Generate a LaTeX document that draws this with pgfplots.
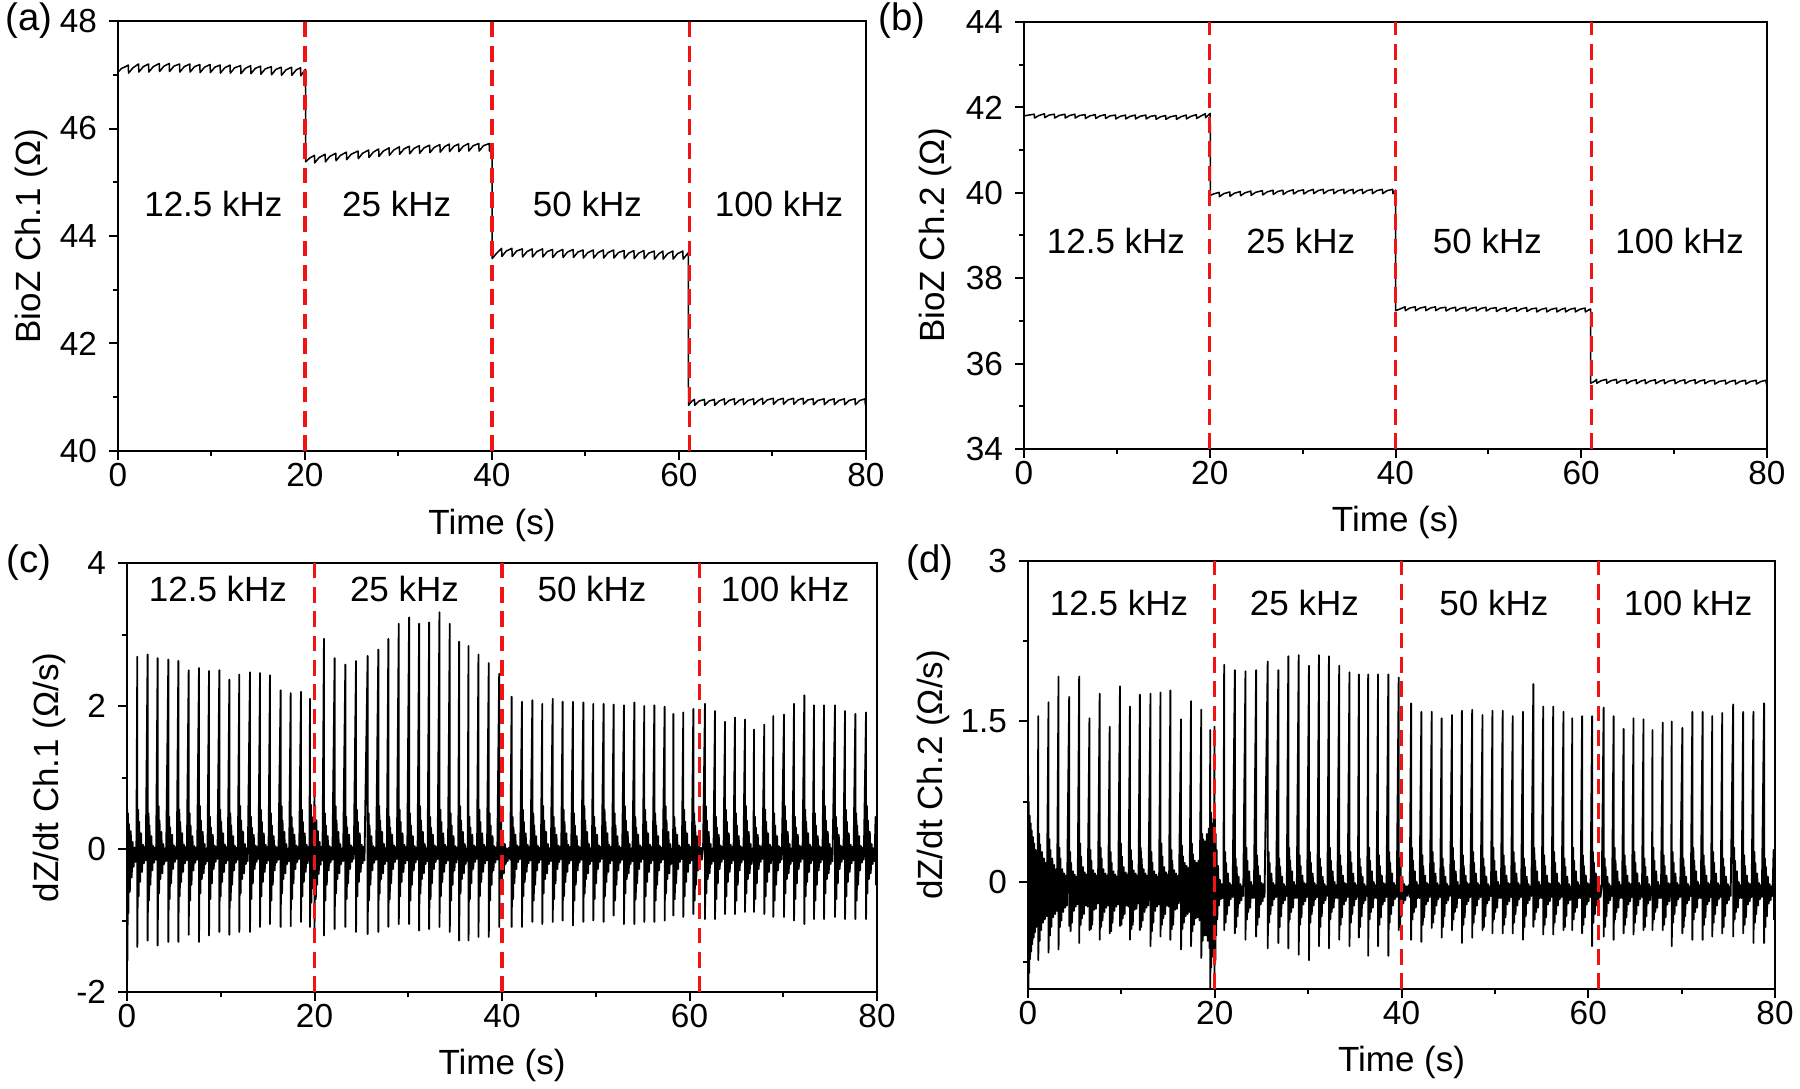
\documentclass[border=0pt]{standalone}
\usepackage{fontspec}
\setmainfont{Liberation Sans}
\usepackage{pgfplots}
\pgfplotsset{compat=1.18}
\definecolor{refred}{RGB}{240,20,20}
\begin{document}
\fontsize{10.5}{12}\selectfont
\begin{tikzpicture}
\tikzset{
  khz/.style={font=\fontsize{10.5}{12}\selectfont},
  redline/.style={refred, line width=1pt, dash pattern=on 4.7pt off 2.6pt},
  slow/.style={black, line width=0.45pt, line join=round},
  fast/.style={black, line width=0.55pt, line join=round},
}
\pgfplotsset{
  panel/.style={
    scale only axis, anchor=south west,
    xmin=0, xmax=80, xtick={0,20,40,60,80}, minor xtick={10,30,50,70},
    tick align=outside, tick pos=left,
    major tick length=2.6pt, minor tick length=1.6pt,
    every tick/.append style={line width=0.6pt, black},
    axis line style={line width=0.6pt},
    xlabel={Time (s)},
    xlabel style={at={(axis description cs:0.5,-0.172)}, anchor=center, font=\fontsize{10.5}{12}\selectfont},
    ylabel style={anchor=center, font=\fontsize{10.5}{12}\selectfont},
    tick label style={font=\fontsize{10}{12}\selectfont},
    xticklabel style={yshift=2.5pt},
    /pgf/number format/assume math mode=true,
  },
}
% ---------------- (a)
\begin{axis}[panel, at={(35.4pt,191.1pt)}, width=224.4pt, height=129pt,
  ymin=40, ymax=48, ytick={40,42,44,46,48}, minor ytick={41,43,45,47},
  ylabel={BioZ Ch.1 (Ω)}, ylabel style={at={(axis description cs:-0.116,0.5)}}]
\addplot[slow] coordinates {
(0,47.05)(0.4,47.12)(0.8,47.15)
(1.10,47.18)(1.13,47.03)(1.60,47.13)
(2.20,47.20)(2.23,47.05)(2.70,47.15)
(3.27,47.20)(3.30,47.05)(3.77,47.15)
(4.41,47.21)(4.44,47.06)(4.91,47.16)
(5.48,47.21)(5.51,47.06)(5.98,47.16)
(6.58,47.20)(6.61,47.05)(7.08,47.15)
(7.68,47.20)(7.71,47.05)(8.18,47.15)
(8.75,47.19)(8.78,47.04)(9.25,47.14)
(9.85,47.19)(9.88,47.04)(10.35,47.14)
(10.92,47.18)(10.95,47.03)(11.42,47.13)
(11.98,47.18)(12.01,47.03)(12.48,47.13)
(13.12,47.17)(13.15,47.02)(13.62,47.12)
(14.19,47.17)(14.22,47.02)(14.69,47.12)
(15.25,47.16)(15.28,47.01)(15.75,47.11)
(16.39,47.15)(16.42,47.00)(16.89,47.10)
(17.46,47.14)(17.49,46.99)(17.96,47.09)
(18.56,47.14)(18.59,46.99)(19.06,47.09)
(19.52,47.13)(19.55,46.98)(19.95,47.08)
(20.05,47.10)(20.07,45.38)(20.5,45.45)
(21.01,45.50)(21.04,45.36)(21.51,45.46)
(22.15,45.52)(22.18,45.38)(22.65,45.48)
(23.29,45.54)(23.32,45.40)(23.79,45.50)
(24.43,45.56)(24.46,45.42)(24.93,45.52)
(25.67,45.58)(25.70,45.44)(26.17,45.54)
(26.81,45.60)(26.84,45.46)(27.31,45.56)
(27.88,45.62)(27.91,45.48)(28.38,45.58)
(28.99,45.64)(29.02,45.50)(29.49,45.60)
(30.09,45.66)(30.12,45.52)(30.59,45.62)
(31.16,45.67)(31.19,45.53)(31.66,45.63)
(32.23,45.68)(32.26,45.54)(32.73,45.64)
(33.33,45.69)(33.36,45.55)(33.83,45.65)
(34.43,45.70)(34.46,45.56)(34.93,45.66)
(35.43,45.71)(35.46,45.57)(35.93,45.67)
(36.43,45.71)(36.46,45.57)(36.93,45.67)
(37.49,45.72)(37.52,45.58)(37.99,45.68)
(38.59,45.72)(38.62,45.58)(39.09,45.68)
(39.70,45.72)(39.73,45.58)(39.98,45.66)
(40.00,45.67)(40.02,43.58)(40.5,43.68)
(41.03,43.77)(41.06,43.62)(41.53,43.72)
(42.13,43.77)(42.16,43.62)(42.63,43.72)
(43.24,43.76)(43.27,43.61)(43.74,43.71)
(44.30,43.76)(44.33,43.61)(44.80,43.71)
(45.41,43.76)(45.44,43.61)(45.91,43.71)
(46.47,43.75)(46.50,43.60)(46.97,43.70)
(47.57,43.75)(47.60,43.60)(48.07,43.70)
(48.68,43.75)(48.71,43.60)(49.18,43.70)
(49.74,43.74)(49.77,43.59)(50.24,43.69)
(50.84,43.74)(50.87,43.59)(51.34,43.69)
(51.91,43.74)(51.94,43.59)(52.41,43.69)
(53.01,43.74)(53.04,43.59)(53.51,43.69)
(54.12,43.73)(54.15,43.58)(54.62,43.68)
(55.18,43.73)(55.21,43.58)(55.68,43.68)
(56.25,43.73)(56.28,43.58)(56.75,43.68)
(57.35,43.72)(57.38,43.57)(57.85,43.67)
(58.28,43.72)(58.31,43.57)(58.78,43.67)
(59.34,43.72)(59.37,43.57)(59.84,43.67)
(60.41,43.72)(60.44,43.57)(60.91,43.67)
(61.00,43.69)(61.02,40.85)(61.4,40.93)
(61.65,40.96)(61.68,40.85)(62.15,40.93)
(62.72,40.96)(62.75,40.85)(63.22,40.93)
(63.79,40.96)(63.82,40.85)(64.29,40.93)
(64.85,40.97)(64.88,40.86)(65.35,40.94)
(65.92,40.97)(65.95,40.86)(66.42,40.94)
(66.88,40.97)(66.91,40.86)(67.38,40.94)
(67.98,40.97)(68.01,40.86)(68.48,40.94)
(68.94,40.98)(68.97,40.87)(69.44,40.95)
(70.08,40.98)(70.11,40.87)(70.58,40.95)
(71.15,40.98)(71.18,40.87)(71.65,40.95)
(72.25,40.98)(72.28,40.87)(72.75,40.95)
(73.28,40.98)(73.31,40.87)(73.78,40.95)
(74.35,40.97)(74.38,40.86)(74.85,40.94)
(75.52,40.97)(75.55,40.86)(76.02,40.94)
(76.59,40.97)(76.62,40.86)(77.09,40.94)
(77.69,40.97)(77.72,40.86)(78.19,40.94)
(78.83,40.97)(78.86,40.86)(79.33,40.94)
(79.90,40.97)(79.93,40.86)(80,40.90)
};
\addplot[redline] coordinates {(20,40)(20,48)};
\addplot[redline] coordinates {(40,40)(40,48)};
\addplot[redline] coordinates {(61.1,40)(61.1,48)};
\node[khz] at (axis cs:10.2,44.6) {12.5 kHz};
\node[khz] at (axis cs:29.8,44.6) {25 kHz};
\node[khz] at (axis cs:50.2,44.6) {50 kHz};
\node[khz] at (axis cs:70.7,44.6) {100 kHz};
\end{axis}
% ---------------- (b)
\begin{axis}[panel, at={(307.2pt,191.7pt)}, width=222.9pt, height=128.1pt,
  ymin=34, ymax=44, ytick={34,36,38,40,42,44}, minor ytick={35,37,39,41,43},
  ylabel={BioZ Ch.2 (Ω)}, ylabel style={at={(axis description cs:-0.119,0.5)}}]
\addplot[slow] coordinates {
(0,41.80)(0.5,41.82)
(1.10,41.84)(1.13,41.75)(1.60,41.81)
(2.20,41.85)(2.23,41.76)(2.70,41.82)
(3.27,41.84)(3.30,41.75)(3.77,41.81)
(4.41,41.84)(4.44,41.75)(4.91,41.81)
(5.48,41.84)(5.51,41.75)(5.98,41.81)
(6.58,41.83)(6.61,41.74)(7.08,41.80)
(7.68,41.83)(7.71,41.74)(8.18,41.80)
(8.75,41.83)(8.78,41.74)(9.25,41.80)
(9.85,41.82)(9.88,41.73)(10.35,41.79)
(10.92,41.82)(10.95,41.73)(11.42,41.79)
(11.98,41.82)(12.01,41.73)(12.48,41.79)
(13.12,41.82)(13.15,41.73)(13.62,41.79)
(14.19,41.81)(14.22,41.72)(14.69,41.78)
(15.25,41.81)(15.28,41.72)(15.75,41.78)
(16.39,41.81)(16.42,41.72)(16.89,41.78)
(17.46,41.82)(17.49,41.73)(17.96,41.79)
(18.56,41.83)(18.59,41.74)(19.06,41.80)
(19.52,41.85)(19.55,41.76)(19.95,41.84)
(20.05,41.86)(20.07,39.94)(20.5,39.98)
(21.01,40.01)(21.04,39.91)(21.51,39.98)
(22.15,40.02)(22.18,39.92)(22.65,39.99)
(23.29,40.03)(23.32,39.93)(23.79,40.00)
(24.43,40.04)(24.46,39.94)(24.93,40.01)
(25.67,40.05)(25.70,39.95)(26.17,40.02)
(26.81,40.06)(26.84,39.96)(27.31,40.03)
(27.88,40.06)(27.91,39.96)(28.38,40.03)
(28.99,40.07)(29.02,39.97)(29.49,40.04)
(30.09,40.07)(30.12,39.97)(30.59,40.04)
(31.16,40.08)(31.19,39.98)(31.66,40.05)
(32.23,40.08)(32.26,39.98)(32.73,40.05)
(33.33,40.08)(33.36,39.98)(33.83,40.05)
(34.43,40.08)(34.46,39.98)(34.93,40.05)
(35.43,40.08)(35.46,39.98)(35.93,40.05)
(36.43,40.08)(36.46,39.98)(36.93,40.05)
(37.49,40.08)(37.52,39.98)(37.99,40.05)
(38.59,40.08)(38.62,39.98)(39.09,40.05)
(39.70,40.08)(39.73,39.98)(39.98,40.05)
(40.00,40.06)(40.02,37.24)(40.5,37.28)
(41.03,37.33)(41.06,37.24)(41.53,37.30)
(42.13,37.33)(42.16,37.24)(42.63,37.30)
(43.24,37.33)(43.27,37.24)(43.74,37.30)
(44.30,37.33)(44.33,37.24)(44.80,37.30)
(45.41,37.32)(45.44,37.23)(45.91,37.29)
(46.47,37.32)(46.50,37.23)(46.97,37.29)
(47.57,37.32)(47.60,37.23)(48.07,37.29)
(48.68,37.32)(48.71,37.23)(49.18,37.29)
(49.74,37.32)(49.77,37.23)(50.24,37.29)
(50.84,37.31)(50.87,37.22)(51.34,37.28)
(51.91,37.31)(51.94,37.22)(52.41,37.28)
(53.01,37.31)(53.04,37.22)(53.51,37.28)
(54.12,37.31)(54.15,37.22)(54.62,37.28)
(55.18,37.30)(55.21,37.21)(55.68,37.27)
(56.25,37.30)(56.28,37.21)(56.75,37.27)
(57.35,37.30)(57.38,37.21)(57.85,37.27)
(58.28,37.30)(58.31,37.21)(58.78,37.27)
(59.34,37.30)(59.37,37.21)(59.84,37.27)
(60.41,37.30)(60.44,37.21)(60.91,37.27)
(61.00,37.28)(61.02,35.54)(61.4,35.58)
(61.65,35.63)(61.68,35.54)(62.15,35.60)
(62.72,35.63)(62.75,35.54)(63.22,35.60)
(63.79,35.63)(63.82,35.54)(64.29,35.60)
(64.85,35.62)(64.88,35.53)(65.35,35.59)
(65.92,35.62)(65.95,35.53)(66.42,35.59)
(66.88,35.62)(66.91,35.53)(67.38,35.59)
(67.98,35.62)(68.01,35.53)(68.48,35.59)
(68.94,35.62)(68.97,35.53)(69.44,35.59)
(70.08,35.62)(70.11,35.53)(70.58,35.59)
(71.15,35.62)(71.18,35.53)(71.65,35.59)
(72.25,35.62)(72.28,35.53)(72.75,35.59)
(73.28,35.62)(73.31,35.53)(73.78,35.59)
(74.35,35.61)(74.38,35.52)(74.85,35.58)
(75.52,35.61)(75.55,35.52)(76.02,35.58)
(76.59,35.61)(76.62,35.52)(77.09,35.58)
(77.69,35.61)(77.72,35.52)(78.19,35.58)
(78.83,35.61)(78.86,35.52)(79.33,35.58)
(79.90,35.61)(79.93,35.52)(80,35.57)
};
\addplot[redline] coordinates {(20,34)(20,44)};
\addplot[redline] coordinates {(40,34)(40,44)};
\addplot[redline] coordinates {(61.1,34)(61.1,44)};
\node[khz] at (axis cs:9.9,38.87) {12.5 kHz};
\node[khz] at (axis cs:29.8,38.87) {25 kHz};
\node[khz] at (axis cs:49.9,38.87) {50 kHz};
\node[khz] at (axis cs:70.6,38.87) {100 kHz};
\end{axis}
% ---------------- (c)
\begin{axis}[panel, at={(38.1pt,28.8pt)}, width=225pt, height=128.7pt,
  ymin=-2, ymax=4, ytick={-2,0,2,4}, minor ytick={-1,1,3},
  ylabel={dZ/dt Ch.1 (Ω/s)}, ylabel style={at={(axis description cs:-0.1035,0.5)}}]
\addplot[fast] coordinates {
(0,-0.10)(0.03,0.55)(0.05,-1.56)(0.10,0.50)(0.15,-0.90)(0.20,0.35)(0.30,-0.60)(0.40,0.25)(0.50,-0.40)(0.60,0.10)(0.70,-0.25)(0.80,0.02)(0.90,-0.18)(1.00,0.00)
(1.10,2.69)(1.10,-1.37)(1.20,0.55)(1.25,-0.66)(1.30,0.38)(1.40,-0.46)(1.50,0.22)(1.60,-0.32)(1.70,0.06)(1.80,-0.20)(1.90,0.03)(2.00,-0.16)
(2.20,2.72)(2.20,-1.28)(2.30,0.50)(2.35,-0.72)(2.40,0.33)(2.50,-0.50)(2.60,0.18)(2.70,-0.30)(2.80,0.04)(2.90,-0.19)(3.00,0.02)(3.10,-0.15)
(3.27,2.67)(3.27,-1.35)(3.37,0.60)(3.42,-0.62)(3.47,0.40)(3.57,-0.42)(3.67,0.24)(3.77,-0.34)(3.87,0.07)(3.97,-0.21)(4.07,0.01)(4.17,-0.17)
(4.41,2.65)(4.41,-1.30)(4.51,0.45)(4.56,-0.70)(4.61,0.30)(4.71,-0.48)(4.81,0.20)(4.91,-0.28)(5.01,0.05)(5.11,-0.18)(5.21,0.03)(5.31,-0.14)
(5.48,2.63)(5.48,-1.30)(5.58,0.55)(5.63,-0.66)(5.68,0.38)(5.78,-0.46)(5.88,0.22)(5.98,-0.32)(6.08,0.06)(6.18,-0.20)(6.28,0.03)(6.38,-0.16)
(6.58,2.50)(6.58,-1.20)(6.68,0.50)(6.73,-0.72)(6.78,0.33)(6.88,-0.50)(6.98,0.18)(7.08,-0.30)(7.18,0.04)(7.28,-0.19)(7.38,0.02)(7.48,-0.15)
(7.68,2.53)(7.68,-1.30)(7.78,0.60)(7.83,-0.62)(7.88,0.40)(7.98,-0.42)(8.08,0.24)(8.18,-0.34)(8.28,0.07)(8.38,-0.21)(8.48,0.01)(8.58,-0.17)
(8.75,2.49)(8.75,-1.21)(8.85,0.45)(8.90,-0.70)(8.95,0.30)(9.05,-0.48)(9.15,0.20)(9.25,-0.28)(9.35,0.05)(9.45,-0.18)(9.55,0.03)(9.65,-0.14)
(9.85,2.50)(9.85,-1.16)(9.95,0.55)(10.00,-0.66)(10.05,0.38)(10.15,-0.46)(10.25,0.22)(10.35,-0.32)(10.45,0.06)(10.55,-0.20)(10.65,0.03)(10.75,-0.16)
(10.92,2.37)(10.92,-1.20)(11.02,0.50)(11.07,-0.72)(11.12,0.33)(11.22,-0.50)(11.32,0.18)(11.42,-0.30)(11.52,0.04)(11.62,-0.19)(11.72,0.02)(11.82,-0.15)
(11.98,2.44)(11.98,-1.16)(12.08,0.60)(12.13,-0.62)(12.18,0.40)(12.28,-0.42)(12.38,0.24)(12.48,-0.34)(12.58,0.07)(12.68,-0.21)(12.78,0.01)(12.88,-0.17)
(13.12,2.47)(13.12,-1.16)(13.22,0.45)(13.27,-0.70)(13.32,0.30)(13.42,-0.48)(13.52,0.20)(13.62,-0.28)(13.72,0.05)(13.82,-0.18)(13.92,0.03)(14.02,-0.14)
(14.19,2.46)(14.19,-1.09)(14.29,0.55)(14.34,-0.66)(14.39,0.38)(14.49,-0.46)(14.59,0.22)(14.69,-0.32)(14.79,0.06)(14.89,-0.20)(14.99,0.03)(15.09,-0.16)
(15.25,2.43)(15.25,-1.05)(15.35,0.50)(15.40,-0.72)(15.45,0.33)(15.55,-0.50)(15.65,0.18)(15.75,-0.30)(15.85,0.04)(15.95,-0.19)(16.05,0.02)(16.15,-0.15)
(16.39,2.22)(16.39,-1.09)(16.49,0.60)(16.54,-0.62)(16.59,0.40)(16.69,-0.42)(16.79,0.24)(16.89,-0.34)(16.99,0.07)(17.09,-0.21)(17.19,0.01)(17.29,-0.17)
(17.46,2.18)(17.46,-1.08)(17.56,0.45)(17.61,-0.70)(17.66,0.30)(17.76,-0.48)(17.86,0.20)(17.96,-0.28)(18.06,0.05)(18.16,-0.18)(18.26,0.03)(18.36,-0.14)
(18.56,2.20)(18.56,-1.02)(18.66,0.55)(18.71,-0.66)(18.76,0.38)(18.86,-0.46)(18.96,0.22)(19.06,-0.32)(19.16,0.06)(19.26,-0.20)(19.36,0.03)(19.46,-0.16)
(19.52,2.10)(19.52,-1.09)(19.62,0.62)(19.67,-0.75)(19.72,0.45)(19.80,-0.55)(19.88,0.35)(19.94,-0.45)
(20.00,0.88)(20.00,-1.20)(20.08,0.60)(20.14,-0.70)(20.20,0.40)(20.28,-0.50)(20.36,0.25)(20.45,-0.35)(20.55,0.10)(20.65,-0.22)(20.75,0.03)(20.85,-0.16)
(21.01,2.94)(21.01,-1.21)(21.11,0.50)(21.16,-0.72)(21.21,0.33)(21.31,-0.50)(21.41,0.18)(21.51,-0.30)(21.61,0.04)(21.71,-0.19)(21.81,0.02)(21.91,-0.15)
(22.15,2.67)(22.15,-1.12)(22.25,0.60)(22.30,-0.62)(22.35,0.40)(22.45,-0.42)(22.55,0.24)(22.65,-0.34)(22.75,0.07)(22.85,-0.21)(22.95,0.01)(23.05,-0.17)
(23.29,2.58)(23.29,-1.09)(23.39,0.45)(23.44,-0.70)(23.49,0.30)(23.59,-0.48)(23.69,0.20)(23.79,-0.28)(23.89,0.05)(23.99,-0.18)(24.09,0.03)(24.19,-0.14)
(24.43,2.63)(24.43,-1.16)(24.53,0.55)(24.58,-0.66)(24.63,0.38)(24.73,-0.46)(24.83,0.22)(24.93,-0.32)(25.03,0.06)(25.13,-0.20)(25.23,0.03)(25.33,-0.16)
(25.67,2.70)(25.67,-1.19)(25.77,0.50)(25.82,-0.72)(25.87,0.33)(25.97,-0.50)(26.07,0.18)(26.17,-0.30)(26.27,0.04)(26.37,-0.19)(26.47,0.02)(26.57,-0.15)
(26.81,2.79)(26.81,-1.16)(26.91,0.60)(26.96,-0.62)(27.01,0.40)(27.11,-0.42)(27.21,0.24)(27.31,-0.34)(27.41,0.07)(27.51,-0.21)(27.61,0.01)(27.71,-0.17)
(27.88,2.94)(27.88,-1.09)(27.98,0.45)(28.03,-0.70)(28.08,0.30)(28.18,-0.48)(28.28,0.20)(28.38,-0.28)(28.48,0.05)(28.58,-0.18)(28.68,0.03)(28.78,-0.14)
(28.99,3.15)(28.99,-1.05)(29.09,0.55)(29.14,-0.66)(29.19,0.38)(29.29,-0.46)(29.39,0.22)(29.49,-0.32)(29.59,0.06)(29.69,-0.20)(29.79,0.03)(29.89,-0.16)
(30.09,3.24)(30.09,-1.05)(30.19,0.50)(30.24,-0.72)(30.29,0.33)(30.39,-0.50)(30.49,0.18)(30.59,-0.30)(30.69,0.04)(30.79,-0.19)(30.89,0.02)(30.99,-0.15)
(31.16,3.15)(31.16,-1.14)(31.26,0.60)(31.31,-0.62)(31.36,0.40)(31.46,-0.42)(31.56,0.24)(31.66,-0.34)(31.76,0.07)(31.86,-0.21)(31.96,0.01)(32.06,-0.17)
(32.23,3.17)(32.23,-1.12)(32.33,0.45)(32.38,-0.70)(32.43,0.30)(32.53,-0.48)(32.63,0.20)(32.73,-0.28)(32.83,0.05)(32.93,-0.18)(33.03,0.03)(33.13,-0.14)
(33.33,3.31)(33.33,-1.09)(33.43,0.55)(33.48,-0.66)(33.53,0.38)(33.63,-0.46)(33.73,0.22)(33.83,-0.32)(33.93,0.06)(34.03,-0.20)(34.13,0.03)(34.23,-0.16)
(34.43,3.15)(34.43,-1.16)(34.53,0.50)(34.58,-0.72)(34.63,0.33)(34.73,-0.50)(34.83,0.18)(34.93,-0.30)(35.03,0.04)(35.13,-0.19)(35.23,0.02)(35.33,-0.15)
(35.43,2.90)(35.43,-1.28)(35.53,0.60)(35.58,-0.62)(35.63,0.40)(35.73,-0.42)(35.83,0.24)(35.93,-0.34)(36.03,0.07)(36.13,-0.21)(36.23,0.01)(36.33,-0.17)
(36.43,2.84)(36.43,-1.28)(36.53,0.45)(36.58,-0.70)(36.63,0.30)(36.73,-0.48)(36.83,0.20)(36.93,-0.28)(37.03,0.05)(37.13,-0.18)(37.23,0.03)(37.33,-0.14)
(37.49,2.72)(37.49,-1.23)(37.59,0.55)(37.64,-0.66)(37.69,0.38)(37.79,-0.46)(37.89,0.22)(37.99,-0.32)(38.09,0.06)(38.19,-0.20)(38.29,0.03)(38.39,-0.16)
(38.59,2.60)(38.59,-1.23)(38.69,0.50)(38.74,-0.72)(38.79,0.33)(38.89,-0.50)(38.99,0.18)(39.09,-0.30)(39.19,0.04)(39.29,-0.19)(39.39,0.02)(39.49,-0.15)
(39.70,2.45)(39.70,-1.09)(39.80,0.60)(39.85,-0.62)(39.90,0.40)(40.00,-0.42)(40.10,0.24)(40.20,-0.34)(40.30,0.07)(40.40,-0.21)(40.50,0.01)(40.60,-0.17)(40.75,0.02)(40.88,-0.15)
(41.03,2.13)(41.03,-1.09)(41.13,0.45)(41.18,-0.70)(41.23,0.30)(41.33,-0.48)(41.43,0.20)(41.53,-0.28)(41.63,0.05)(41.73,-0.18)(41.83,0.03)(41.93,-0.14)
(42.13,2.06)(42.13,-1.09)(42.23,0.55)(42.28,-0.66)(42.33,0.38)(42.43,-0.46)(42.53,0.22)(42.63,-0.32)(42.73,0.06)(42.83,-0.20)(42.93,0.03)(43.03,-0.16)
(43.24,2.08)(43.24,-1.02)(43.34,0.50)(43.39,-0.72)(43.44,0.33)(43.54,-0.50)(43.64,0.18)(43.74,-0.30)(43.84,0.04)(43.94,-0.19)(44.04,0.02)(44.14,-0.15)
(44.30,2.03)(44.30,-1.05)(44.40,0.60)(44.45,-0.62)(44.50,0.40)(44.60,-0.42)(44.70,0.24)(44.80,-0.34)(44.90,0.07)(45.00,-0.21)(45.10,0.01)(45.20,-0.17)
(45.41,2.10)(45.41,-1.02)(45.51,0.45)(45.56,-0.70)(45.61,0.30)(45.71,-0.48)(45.81,0.20)(45.91,-0.28)(46.01,0.05)(46.11,-0.18)(46.21,0.03)(46.31,-0.14)
(46.47,2.06)(46.47,-1.00)(46.57,0.55)(46.62,-0.66)(46.67,0.38)(46.77,-0.46)(46.87,0.22)(46.97,-0.32)(47.07,0.06)(47.17,-0.20)(47.27,0.03)(47.37,-0.16)
(47.57,2.06)(47.57,-1.07)(47.67,0.50)(47.72,-0.72)(47.77,0.33)(47.87,-0.50)(47.97,0.18)(48.07,-0.30)(48.17,0.04)(48.27,-0.19)(48.37,0.02)(48.47,-0.15)
(48.68,2.05)(48.68,-1.02)(48.78,0.60)(48.83,-0.62)(48.88,0.40)(48.98,-0.42)(49.08,0.24)(49.18,-0.34)(49.28,0.07)(49.38,-0.21)(49.48,0.01)(49.58,-0.17)
(49.74,2.03)(49.74,-1.00)(49.84,0.45)(49.89,-0.70)(49.94,0.30)(50.04,-0.48)(50.14,0.20)(50.24,-0.28)(50.34,0.05)(50.44,-0.18)(50.54,0.03)(50.64,-0.14)
(50.84,2.03)(50.84,-1.02)(50.94,0.55)(50.99,-0.66)(51.04,0.38)(51.14,-0.46)(51.24,0.22)(51.34,-0.32)(51.44,0.06)(51.54,-0.20)(51.64,0.03)(51.74,-0.16)
(51.91,2.02)(51.91,-0.93)(52.01,0.50)(52.06,-0.72)(52.11,0.33)(52.21,-0.50)(52.31,0.18)(52.41,-0.30)(52.51,0.04)(52.61,-0.19)(52.71,0.02)(52.81,-0.15)
(53.01,2.01)(53.01,-1.05)(53.11,0.60)(53.16,-0.62)(53.21,0.40)(53.31,-0.42)(53.41,0.24)(53.51,-0.34)(53.61,0.07)(53.71,-0.21)(53.81,0.01)(53.91,-0.17)
(54.12,2.05)(54.12,-1.05)(54.22,0.45)(54.27,-0.70)(54.32,0.30)(54.42,-0.48)(54.52,0.20)(54.62,-0.28)(54.72,0.05)(54.82,-0.18)(54.92,0.03)(55.02,-0.14)
(55.18,2.00)(55.18,-1.02)(55.28,0.55)(55.33,-0.66)(55.38,0.38)(55.48,-0.46)(55.58,0.22)(55.68,-0.32)(55.78,0.06)(55.88,-0.20)(55.98,0.03)(56.08,-0.16)
(56.25,2.01)(56.25,-1.02)(56.35,0.50)(56.40,-0.72)(56.45,0.33)(56.55,-0.50)(56.65,0.18)(56.75,-0.30)(56.85,0.04)(56.95,-0.19)(57.05,0.02)(57.15,-0.15)
(57.35,1.99)(57.35,-1.00)(57.45,0.60)(57.50,-0.62)(57.55,0.40)(57.65,-0.42)(57.75,0.24)(57.85,-0.34)(57.95,0.07)(58.05,-0.21)(58.15,0.01)(58.25,-0.17)
(58.28,1.89)(58.28,-0.93)(58.38,0.45)(58.43,-0.70)(58.48,0.30)(58.58,-0.48)(58.68,0.20)(58.78,-0.28)(58.88,0.05)(58.98,-0.18)(59.08,0.03)(59.18,-0.14)
(59.34,1.91)(59.34,-0.95)(59.44,0.55)(59.49,-0.66)(59.54,0.38)(59.64,-0.46)(59.74,0.22)(59.84,-0.32)(59.94,0.06)(60.04,-0.20)(60.14,0.03)(60.24,-0.16)
(60.41,1.96)(60.41,-0.91)(60.51,0.50)(60.56,-0.72)(60.61,0.33)(60.71,-0.50)(60.81,0.18)(60.91,-0.30)(61.01,0.04)(61.11,-0.19)(61.21,0.02)(61.31,-0.15)(61.45,0.02)
(61.65,2.03)(61.65,-0.98)(61.75,0.60)(61.80,-0.62)(61.85,0.40)(61.95,-0.42)(62.05,0.24)(62.15,-0.34)(62.25,0.07)(62.35,-0.21)(62.45,0.01)(62.55,-0.17)
(62.72,1.93)(62.72,-0.98)(62.82,0.45)(62.87,-0.70)(62.92,0.30)(63.02,-0.48)(63.12,0.20)(63.22,-0.28)(63.32,0.05)(63.42,-0.18)(63.52,0.03)(63.62,-0.14)
(63.79,1.78)(63.79,-0.91)(63.89,0.55)(63.94,-0.66)(63.99,0.38)(64.09,-0.46)(64.19,0.22)(64.29,-0.32)(64.39,0.06)(64.49,-0.20)(64.59,0.03)(64.69,-0.16)
(64.85,1.84)(64.85,-0.91)(64.95,0.50)(65.00,-0.72)(65.05,0.33)(65.15,-0.50)(65.25,0.18)(65.35,-0.30)(65.45,0.04)(65.55,-0.19)(65.65,0.02)(65.75,-0.15)
(65.92,1.81)(65.92,-0.88)(66.02,0.60)(66.07,-0.62)(66.12,0.40)(66.22,-0.42)(66.32,0.24)(66.42,-0.34)(66.52,0.07)(66.62,-0.21)(66.72,0.01)(66.82,-0.17)
(66.88,1.67)(66.88,-0.88)(66.98,0.45)(67.03,-0.70)(67.08,0.30)(67.18,-0.48)(67.28,0.20)(67.38,-0.28)(67.48,0.05)(67.58,-0.18)(67.68,0.03)(67.78,-0.14)
(67.98,1.74)(67.98,-0.91)(68.08,0.55)(68.13,-0.66)(68.18,0.38)(68.28,-0.46)(68.38,0.22)(68.48,-0.32)(68.58,0.06)(68.68,-0.20)(68.78,0.03)(68.88,-0.16)
(68.94,1.86)(68.94,-0.95)(69.04,0.50)(69.09,-0.72)(69.14,0.33)(69.24,-0.50)(69.34,0.18)(69.44,-0.30)(69.54,0.04)(69.64,-0.19)(69.74,0.02)(69.84,-0.15)
(70.08,1.88)(70.08,-0.95)(70.18,0.60)(70.23,-0.62)(70.28,0.40)(70.38,-0.42)(70.48,0.24)(70.58,-0.34)(70.68,0.07)(70.78,-0.21)(70.88,0.01)(70.98,-0.17)
(71.15,2.03)(71.15,-1.00)(71.25,0.45)(71.30,-0.70)(71.35,0.30)(71.45,-0.48)(71.55,0.20)(71.65,-0.28)(71.75,0.05)(71.85,-0.18)(71.95,0.03)(72.05,-0.14)
(72.25,2.15)(72.25,-1.05)(72.35,0.55)(72.40,-0.66)(72.45,0.38)(72.55,-0.46)(72.65,0.22)(72.75,-0.32)(72.85,0.06)(72.95,-0.20)(73.05,0.03)(73.15,-0.16)
(73.28,2.01)(73.28,-0.98)(73.38,0.50)(73.43,-0.72)(73.48,0.33)(73.58,-0.50)(73.68,0.18)(73.78,-0.30)(73.88,0.04)(73.98,-0.19)(74.08,0.02)(74.18,-0.15)
(74.35,2.01)(74.35,-0.98)(74.45,0.60)(74.50,-0.62)(74.55,0.40)(74.65,-0.42)(74.75,0.24)(74.85,-0.34)(74.95,0.07)(75.05,-0.21)(75.15,0.01)(75.25,-0.17)
(75.52,2.01)(75.52,-0.95)(75.62,0.45)(75.67,-0.70)(75.72,0.30)(75.82,-0.48)(75.92,0.20)(76.02,-0.28)(76.12,0.05)(76.22,-0.18)(76.32,0.03)(76.42,-0.14)
(76.59,1.93)(76.59,-0.98)(76.69,0.55)(76.74,-0.66)(76.79,0.38)(76.89,-0.46)(76.99,0.22)(77.09,-0.32)(77.19,0.06)(77.29,-0.20)(77.39,0.03)(77.49,-0.16)
(77.69,1.89)(77.69,-0.98)(77.79,0.50)(77.84,-0.72)(77.89,0.33)(77.99,-0.50)(78.09,0.18)(78.19,-0.30)(78.29,0.04)(78.39,-0.19)(78.49,0.02)(78.59,-0.15)
(78.83,1.91)(78.83,-0.98)(78.93,0.60)(78.98,-0.62)(79.03,0.40)(79.13,-0.42)(79.23,0.24)(79.33,-0.34)(79.43,0.07)(79.53,-0.21)(79.63,0.01)(79.73,-0.17)(79.85,0.45)(79.90,-0.50)(79.95,-0.10)
};
\addplot[redline] coordinates {(20,-2)(20,4)};
\addplot[redline] coordinates {(40,-2)(40,4)};
\addplot[redline] coordinates {(61.1,-2)(61.1,4)};
\node[khz] at (axis cs:9.7,3.64) {12.5 kHz};
\node[khz] at (axis cs:29.6,3.64) {25 kHz};
\node[khz] at (axis cs:49.6,3.64) {50 kHz};
\node[khz] at (axis cs:70.2,3.64) {100 kHz};
\end{axis}
% ---------------- (d)
\begin{axis}[panel, at={(308.4pt,29.7pt)}, width=224.1pt, height=128.4pt,
  ymin=-1, ymax=3, ytick={0,1.5,3}, minor ytick={-0.75,0.75,2.25},
  ylabel={dZ/dt Ch.2 (Ω/s)}, ylabel style={at={(axis description cs:-0.127,0.5)}}]
\addplot[fast] coordinates {
(0,-0.10)(0.02,1.00)(0.04,-1.00)(0.08,0.75)(0.12,-0.85)(0.17,0.62)(0.22,-0.72)(0.28,0.55)(0.34,-0.65)(0.40,0.48)(0.46,-0.58)(0.53,0.42)(0.60,-0.52)(0.67,0.36)(0.74,-0.47)(0.81,0.30)(0.88,-0.42)(0.95,0.25)(1.02,-0.38)
(1.10,1.55)(1.10,-0.73)(1.20,0.45)(1.25,-0.55)(1.30,0.35)(1.40,-0.45)(1.50,0.28)(1.60,-0.38)(1.70,0.22)(1.80,-0.35)(1.90,0.18)(2.00,-0.32)
(2.20,1.68)(2.20,-0.66)(2.30,0.40)(2.35,-0.50)(2.40,0.30)(2.50,-0.42)(2.60,0.22)(2.70,-0.33)(2.80,0.16)(2.90,-0.30)(3.00,0.12)(3.10,-0.27)
(3.27,1.92)(3.27,-0.63)(3.37,0.32)(3.42,-0.42)(3.47,0.22)(3.57,-0.36)(3.67,0.12)(3.77,-0.28)(3.87,0.08)(3.97,-0.24)(4.07,0.06)(4.17,-0.22)
(4.41,1.73)(4.41,-0.41)(4.51,0.28)(4.56,-0.46)(4.61,0.18)(4.71,-0.38)(4.81,0.10)(4.91,-0.27)(5.01,0.07)(5.11,-0.23)(5.21,0.05)(5.31,-0.21)
(5.48,1.92)(5.48,-0.57)(5.58,0.36)(5.63,-0.40)(5.68,0.24)(5.78,-0.34)(5.88,0.14)(5.98,-0.30)(6.08,0.09)(6.18,-0.22)(6.28,0.07)(6.38,-0.23)
(6.58,1.53)(6.58,-0.45)(6.68,0.30)(6.73,-0.44)(6.78,0.20)(6.88,-0.40)(6.98,0.11)(7.08,-0.26)(7.18,0.08)(7.28,-0.25)(7.38,0.06)(7.48,-0.20)
(7.68,1.76)(7.68,-0.54)(7.78,0.32)(7.83,-0.42)(7.88,0.22)(7.98,-0.36)(8.08,0.12)(8.18,-0.28)(8.28,0.08)(8.38,-0.24)(8.48,0.06)(8.58,-0.22)
(8.75,1.45)(8.75,-0.48)(8.85,0.28)(8.90,-0.46)(8.95,0.18)(9.05,-0.38)(9.15,0.10)(9.25,-0.27)(9.35,0.07)(9.45,-0.23)(9.55,0.05)(9.65,-0.21)
(9.85,1.83)(9.85,-0.41)(9.95,0.36)(10.00,-0.40)(10.05,0.24)(10.15,-0.34)(10.25,0.14)(10.35,-0.30)(10.45,0.09)(10.55,-0.22)(10.65,0.07)(10.75,-0.23)
(10.92,1.64)(10.92,-0.54)(11.02,0.30)(11.07,-0.44)(11.12,0.20)(11.22,-0.40)(11.32,0.11)(11.42,-0.26)(11.52,0.08)(11.62,-0.25)(11.72,0.06)(11.82,-0.20)
(11.98,1.75)(11.98,-0.45)(12.08,0.32)(12.13,-0.42)(12.18,0.22)(12.28,-0.36)(12.38,0.12)(12.48,-0.28)(12.58,0.08)(12.68,-0.24)(12.78,0.06)(12.88,-0.22)
(13.12,1.76)(13.12,-0.60)(13.22,0.28)(13.27,-0.46)(13.32,0.18)(13.42,-0.38)(13.52,0.10)(13.62,-0.27)(13.72,0.07)(13.82,-0.23)(13.92,0.05)(14.02,-0.21)
(14.19,1.77)(14.19,-0.51)(14.29,0.36)(14.34,-0.40)(14.39,0.24)(14.49,-0.34)(14.59,0.14)(14.69,-0.30)(14.79,0.09)(14.89,-0.22)(14.99,0.07)(15.09,-0.23)
(15.25,1.79)(15.25,-0.54)(15.35,0.30)(15.40,-0.44)(15.45,0.20)(15.55,-0.40)(15.65,0.11)(15.75,-0.26)(15.85,0.08)(15.95,-0.25)(16.05,0.06)(16.15,-0.20)
(16.39,1.52)(16.39,-0.63)(16.49,0.34)(16.54,-0.44)(16.59,0.24)(16.69,-0.38)(16.79,0.18)(16.89,-0.32)(16.99,0.15)(17.09,-0.30)(17.19,0.13)(17.29,-0.28)
(17.46,1.69)(17.46,-0.60)(17.56,0.36)(17.61,-0.46)(17.66,0.26)(17.76,-0.40)(17.86,0.20)(17.96,-0.34)(18.06,0.18)(18.16,-0.33)(18.26,0.20)(18.36,-0.36)
(18.56,1.61)(18.56,-0.71)(18.66,0.45)(18.71,-0.55)(18.76,0.40)(18.86,-0.50)(18.96,0.38)(19.06,-0.50)(19.16,0.45)(19.26,-0.55)(19.36,0.50)(19.44,-0.62)
(19.52,1.42)(19.52,-0.99)(19.58,0.65)(19.62,-0.80)(19.67,0.55)(19.72,-0.70)(19.77,0.50)(19.82,-0.65)(19.87,0.60)(19.92,-0.70)(19.97,1.45)(19.97,-1.00)(20.02,0.70)(20.06,-0.75)(20.10,0.45)(20.15,-0.50)(20.20,0.30)(20.27,-0.35)(20.35,0.15)(20.45,-0.22)(20.55,0.02)(20.65,-0.16)(20.75,-0.02)(20.85,-0.15)(20.93,-0.04)
(21.01,2.03)(21.01,-0.45)(21.11,0.28)(21.16,-0.38)(21.21,0.18)(21.31,-0.30)(21.41,0.08)(21.51,-0.22)(21.61,-0.01)(21.71,-0.16)(21.81,-0.03)(21.91,-0.14)
(22.15,1.98)(22.15,-0.48)(22.25,0.22)(22.30,-0.42)(22.35,0.14)(22.45,-0.32)(22.55,0.05)(22.65,-0.20)(22.75,-0.02)(22.85,-0.17)(22.95,-0.04)(23.05,-0.13)
(23.29,1.97)(23.29,-0.54)(23.39,0.32)(23.44,-0.35)(23.49,0.20)(23.59,-0.28)(23.69,0.10)(23.79,-0.24)(23.89,0.00)(23.99,-0.15)(24.09,-0.03)(24.19,-0.15)
(24.43,1.98)(24.43,-0.51)(24.53,0.25)(24.58,-0.40)(24.63,0.15)(24.73,-0.33)(24.83,0.06)(24.93,-0.21)(25.03,-0.01)(25.13,-0.18)(25.23,-0.02)(25.33,-0.14)
(25.67,2.06)(25.67,-0.62)(25.77,0.28)(25.82,-0.38)(25.87,0.18)(25.97,-0.30)(26.07,0.08)(26.17,-0.22)(26.27,-0.01)(26.37,-0.16)(26.47,-0.03)(26.57,-0.14)
(26.81,1.98)(26.81,-0.57)(26.91,0.22)(26.96,-0.42)(27.01,0.14)(27.11,-0.32)(27.21,0.05)(27.31,-0.20)(27.41,-0.02)(27.51,-0.17)(27.61,-0.04)(27.71,-0.13)
(27.88,2.11)(27.88,-0.62)(27.98,0.32)(28.03,-0.35)(28.08,0.20)(28.18,-0.28)(28.28,0.10)(28.38,-0.24)(28.48,0.00)(28.58,-0.15)(28.68,-0.03)(28.78,-0.15)
(28.99,2.12)(28.99,-0.68)(29.09,0.25)(29.14,-0.40)(29.19,0.15)(29.29,-0.33)(29.39,0.06)(29.49,-0.21)(29.59,-0.01)(29.69,-0.18)(29.79,-0.02)(29.89,-0.14)
(30.09,2.02)(30.09,-0.73)(30.19,0.28)(30.24,-0.38)(30.29,0.18)(30.39,-0.30)(30.49,0.08)(30.59,-0.22)(30.69,-0.01)(30.79,-0.16)(30.89,-0.03)(30.99,-0.14)
(31.16,2.12)(31.16,-0.60)(31.26,0.22)(31.31,-0.42)(31.36,0.14)(31.46,-0.32)(31.56,0.05)(31.66,-0.20)(31.76,-0.02)(31.86,-0.17)(31.96,-0.04)(32.06,-0.13)
(32.23,2.11)(32.23,-0.62)(32.33,0.32)(32.38,-0.35)(32.43,0.20)(32.53,-0.28)(32.63,0.10)(32.73,-0.24)(32.83,0.00)(32.93,-0.15)(33.03,-0.03)(33.13,-0.15)
(33.33,2.02)(33.33,-0.54)(33.43,0.25)(33.48,-0.40)(33.53,0.15)(33.63,-0.33)(33.73,0.06)(33.83,-0.21)(33.93,-0.01)(34.03,-0.18)(34.13,-0.02)(34.23,-0.14)
(34.43,1.96)(34.43,-0.60)(34.53,0.28)(34.58,-0.38)(34.63,0.18)(34.73,-0.30)(34.83,0.08)(34.93,-0.22)(35.03,-0.01)(35.13,-0.16)(35.23,-0.03)(35.33,-0.14)
(35.43,1.94)(35.43,-0.52)(35.53,0.22)(35.58,-0.42)(35.63,0.14)(35.73,-0.32)(35.83,0.05)(35.93,-0.20)(36.03,-0.02)(36.13,-0.17)(36.23,-0.04)(36.33,-0.13)
(36.43,1.94)(36.43,-0.69)(36.53,0.32)(36.58,-0.35)(36.63,0.20)(36.73,-0.28)(36.83,0.10)(36.93,-0.24)(37.03,0.00)(37.13,-0.15)(37.23,-0.03)(37.33,-0.15)
(37.49,1.94)(37.49,-0.60)(37.59,0.25)(37.64,-0.40)(37.69,0.15)(37.79,-0.33)(37.89,0.06)(37.99,-0.21)(38.09,-0.01)(38.19,-0.18)(38.29,-0.02)(38.39,-0.14)
(38.59,1.94)(38.59,-0.69)(38.69,0.28)(38.74,-0.38)(38.79,0.18)(38.89,-0.30)(38.99,0.08)(39.09,-0.22)(39.19,-0.01)(39.29,-0.16)(39.39,-0.03)(39.49,-0.14)
(39.70,1.91)(39.70,-0.45)(39.80,0.22)(39.85,-0.42)(39.90,0.14)(40.00,-0.32)(40.10,0.05)(40.20,-0.20)(40.30,-0.02)(40.40,-0.17)(40.50,-0.04)(40.60,-0.13)(40.75,-0.03)(40.88,-0.14)
(41.03,1.67)(41.03,-0.54)(41.13,0.32)(41.18,-0.35)(41.23,0.20)(41.33,-0.28)(41.43,0.10)(41.53,-0.24)(41.63,0.00)(41.73,-0.15)(41.83,-0.03)(41.93,-0.15)
(42.13,1.59)(42.13,-0.56)(42.23,0.25)(42.28,-0.40)(42.33,0.15)(42.43,-0.33)(42.53,0.06)(42.63,-0.21)(42.73,-0.01)(42.83,-0.18)(42.93,-0.02)(43.03,-0.14)
(43.24,1.59)(43.24,-0.43)(43.34,0.28)(43.39,-0.38)(43.44,0.18)(43.54,-0.30)(43.64,0.08)(43.74,-0.22)(43.84,-0.01)(43.94,-0.16)(44.04,-0.03)(44.14,-0.14)
(44.30,1.53)(44.30,-0.52)(44.40,0.22)(44.45,-0.42)(44.50,0.14)(44.60,-0.32)(44.70,0.05)(44.80,-0.20)(44.90,-0.02)(45.00,-0.17)(45.10,-0.04)(45.20,-0.13)
(45.41,1.56)(45.41,-0.45)(45.51,0.32)(45.56,-0.35)(45.61,0.20)(45.71,-0.28)(45.81,0.10)(45.91,-0.24)(46.01,0.00)(46.11,-0.15)(46.21,-0.03)(46.31,-0.15)
(46.47,1.60)(46.47,-0.57)(46.57,0.25)(46.62,-0.40)(46.67,0.15)(46.77,-0.33)(46.87,0.06)(46.97,-0.21)(47.07,-0.01)(47.17,-0.18)(47.27,-0.02)(47.37,-0.14)
(47.57,1.61)(47.57,-0.52)(47.67,0.28)(47.72,-0.38)(47.77,0.18)(47.87,-0.30)(47.97,0.08)(48.07,-0.22)(48.17,-0.01)(48.27,-0.16)(48.37,-0.03)(48.47,-0.14)
(48.68,1.56)(48.68,-0.45)(48.78,0.22)(48.83,-0.42)(48.88,0.14)(48.98,-0.32)(49.08,0.05)(49.18,-0.20)(49.28,-0.02)(49.38,-0.17)(49.48,-0.04)(49.58,-0.13)
(49.74,1.60)(49.74,-0.48)(49.84,0.32)(49.89,-0.35)(49.94,0.20)(50.04,-0.28)(50.14,0.10)(50.24,-0.24)(50.34,0.00)(50.44,-0.15)(50.54,-0.03)(50.64,-0.15)
(50.84,1.60)(50.84,-0.48)(50.94,0.25)(50.99,-0.40)(51.04,0.15)(51.14,-0.33)(51.24,0.06)(51.34,-0.21)(51.44,-0.01)(51.54,-0.18)(51.64,-0.02)(51.74,-0.14)
(51.91,1.55)(51.91,-0.48)(52.01,0.28)(52.06,-0.38)(52.11,0.18)(52.21,-0.30)(52.31,0.08)(52.41,-0.22)(52.51,-0.01)(52.61,-0.16)(52.71,-0.03)(52.81,-0.14)
(53.01,1.59)(53.01,-0.54)(53.11,0.22)(53.16,-0.42)(53.21,0.14)(53.31,-0.32)(53.41,0.05)(53.51,-0.20)(53.61,-0.02)(53.71,-0.17)(53.81,-0.04)(53.91,-0.13)
(54.12,1.85)(54.12,-0.42)(54.22,0.32)(54.27,-0.35)(54.32,0.20)(54.42,-0.28)(54.52,0.10)(54.62,-0.24)(54.72,0.00)(54.82,-0.15)(54.92,-0.03)(55.02,-0.15)
(55.18,1.64)(55.18,-0.49)(55.28,0.25)(55.33,-0.40)(55.38,0.15)(55.48,-0.33)(55.58,0.06)(55.68,-0.21)(55.78,-0.01)(55.88,-0.18)(55.98,-0.02)(56.08,-0.14)
(56.25,1.64)(56.25,-0.49)(56.35,0.28)(56.40,-0.38)(56.45,0.18)(56.55,-0.30)(56.65,0.08)(56.75,-0.22)(56.85,-0.01)(56.95,-0.16)(57.05,-0.03)(57.15,-0.14)
(57.35,1.59)(57.35,-0.45)(57.45,0.22)(57.50,-0.42)(57.55,0.14)(57.65,-0.32)(57.75,0.05)(57.85,-0.20)(57.95,-0.02)(58.05,-0.17)(58.15,-0.04)(58.25,-0.13)
(58.28,1.53)(58.28,-0.45)(58.38,0.32)(58.43,-0.35)(58.48,0.20)(58.58,-0.28)(58.68,0.10)(58.78,-0.24)(58.88,0.00)(58.98,-0.15)(59.08,-0.03)(59.18,-0.15)
(59.34,1.55)(59.34,-0.48)(59.44,0.25)(59.49,-0.40)(59.54,0.15)(59.64,-0.33)(59.74,0.06)(59.84,-0.21)(59.94,-0.01)(60.04,-0.18)(60.14,-0.02)(60.24,-0.14)
(60.41,1.55)(60.41,-0.60)(60.51,0.28)(60.56,-0.38)(60.61,0.18)(60.71,-0.30)(60.81,0.08)(60.91,-0.22)(61.01,-0.01)(61.11,-0.16)(61.21,-0.03)(61.31,-0.14)(61.45,-0.03)
(61.65,1.63)(61.65,-0.51)(61.75,0.22)(61.80,-0.42)(61.85,0.14)(61.95,-0.32)(62.05,0.05)(62.15,-0.20)(62.25,-0.02)(62.35,-0.17)(62.45,-0.04)(62.55,-0.13)
(62.72,1.55)(62.72,-0.54)(62.82,0.32)(62.87,-0.35)(62.92,0.20)(63.02,-0.28)(63.12,0.10)(63.22,-0.24)(63.32,0.00)(63.42,-0.15)(63.52,-0.03)(63.62,-0.15)
(63.79,1.43)(63.79,-0.48)(63.89,0.25)(63.94,-0.40)(63.99,0.15)(64.09,-0.33)(64.19,0.06)(64.29,-0.21)(64.39,-0.01)(64.49,-0.18)(64.59,-0.02)(64.69,-0.14)
(64.85,1.53)(64.85,-0.49)(64.95,0.28)(65.00,-0.38)(65.05,0.18)(65.15,-0.30)(65.25,0.08)(65.35,-0.22)(65.45,-0.01)(65.55,-0.16)(65.65,-0.03)(65.75,-0.14)
(65.92,1.52)(65.92,-0.45)(66.02,0.22)(66.07,-0.42)(66.12,0.14)(66.22,-0.32)(66.32,0.05)(66.42,-0.20)(66.52,-0.02)(66.62,-0.17)(66.72,-0.04)(66.82,-0.13)
(66.88,1.42)(66.88,-0.45)(66.98,0.32)(67.03,-0.35)(67.08,0.20)(67.18,-0.28)(67.28,0.10)(67.38,-0.24)(67.48,0.00)(67.58,-0.15)(67.68,-0.03)(67.78,-0.15)
(67.98,1.49)(67.98,-0.45)(68.08,0.25)(68.13,-0.40)(68.18,0.15)(68.28,-0.33)(68.38,0.06)(68.48,-0.21)(68.58,-0.01)(68.68,-0.18)(68.78,-0.02)(68.88,-0.14)
(68.94,1.50)(68.94,-0.60)(69.04,0.28)(69.09,-0.38)(69.14,0.18)(69.24,-0.30)(69.34,0.08)(69.44,-0.22)(69.54,-0.01)(69.64,-0.16)(69.74,-0.03)(69.84,-0.14)
(70.08,1.44)(70.08,-0.48)(70.18,0.22)(70.23,-0.42)(70.28,0.14)(70.38,-0.32)(70.48,0.05)(70.58,-0.20)(70.68,-0.02)(70.78,-0.17)(70.88,-0.04)(70.98,-0.13)
(71.15,1.59)(71.15,-0.54)(71.25,0.32)(71.30,-0.35)(71.35,0.20)(71.45,-0.28)(71.55,0.10)(71.65,-0.24)(71.75,0.00)(71.85,-0.15)(71.95,-0.03)(72.05,-0.15)
(72.25,1.59)(72.25,-0.54)(72.35,0.25)(72.40,-0.40)(72.45,0.15)(72.55,-0.33)(72.65,0.06)(72.75,-0.21)(72.85,-0.01)(72.95,-0.18)(73.05,-0.02)(73.15,-0.14)
(73.28,1.55)(73.28,-0.51)(73.38,0.28)(73.43,-0.38)(73.48,0.18)(73.58,-0.30)(73.68,0.08)(73.78,-0.22)(73.88,-0.01)(73.98,-0.16)(74.08,-0.03)(74.18,-0.14)
(74.35,1.58)(74.35,-0.48)(74.45,0.22)(74.50,-0.42)(74.55,0.14)(74.65,-0.32)(74.75,0.05)(74.85,-0.20)(74.95,-0.02)(75.05,-0.17)(75.15,-0.04)(75.25,-0.13)
(75.52,1.66)(75.52,-0.51)(75.62,0.32)(75.67,-0.35)(75.72,0.20)(75.82,-0.28)(75.92,0.10)(76.02,-0.24)(76.12,0.00)(76.22,-0.15)(76.32,-0.03)(76.42,-0.15)
(76.59,1.59)(76.59,-0.48)(76.69,0.25)(76.74,-0.40)(76.79,0.15)(76.89,-0.33)(76.99,0.06)(77.09,-0.21)(77.19,-0.01)(77.29,-0.18)(77.39,-0.02)(77.49,-0.14)
(77.69,1.59)(77.69,-0.57)(77.79,0.28)(77.84,-0.38)(77.89,0.18)(77.99,-0.30)(78.09,0.08)(78.19,-0.22)(78.29,-0.01)(78.39,-0.16)(78.49,-0.03)(78.59,-0.14)
(78.83,1.67)(78.83,-0.57)(78.93,0.22)(78.98,-0.42)(79.03,0.14)(79.13,-0.32)(79.23,0.05)(79.33,-0.20)(79.43,-0.02)(79.53,-0.17)(79.63,-0.04)(79.73,-0.13)(79.85,0.30)(79.90,-0.35)(79.95,-0.10)
};
\addplot[redline] coordinates {(20,-1)(20,3)};
\addplot[redline] coordinates {(40,-1)(40,3)};
\addplot[redline] coordinates {(61.1,-1)(61.1,3)};
\node[khz] at (axis cs:9.75,2.61) {12.5 kHz};
\node[khz] at (axis cs:29.6,2.61) {25 kHz};
\node[khz] at (axis cs:49.9,2.61) {50 kHz};
\node[khz] at (axis cs:70.7,2.61) {100 kHz};
\end{axis}
% panel letters
\node[font=\fontsize{11.5}{13}\selectfont] at (8.7pt,320.1pt) {(a)};
\node[font=\fontsize{11.5}{13}\selectfont] at (270.6pt,320.1pt) {(b)};
\node[font=\fontsize{11.5}{13}\selectfont] at (8.7pt,157.5pt) {(c)};
\node[font=\fontsize{11.5}{13}\selectfont] at (279pt,157.5pt) {(d)};
\pgfresetboundingbox
\path[use as bounding box] (0,0) rectangle (540pt,326.4pt);
\end{tikzpicture}
\end{document}
